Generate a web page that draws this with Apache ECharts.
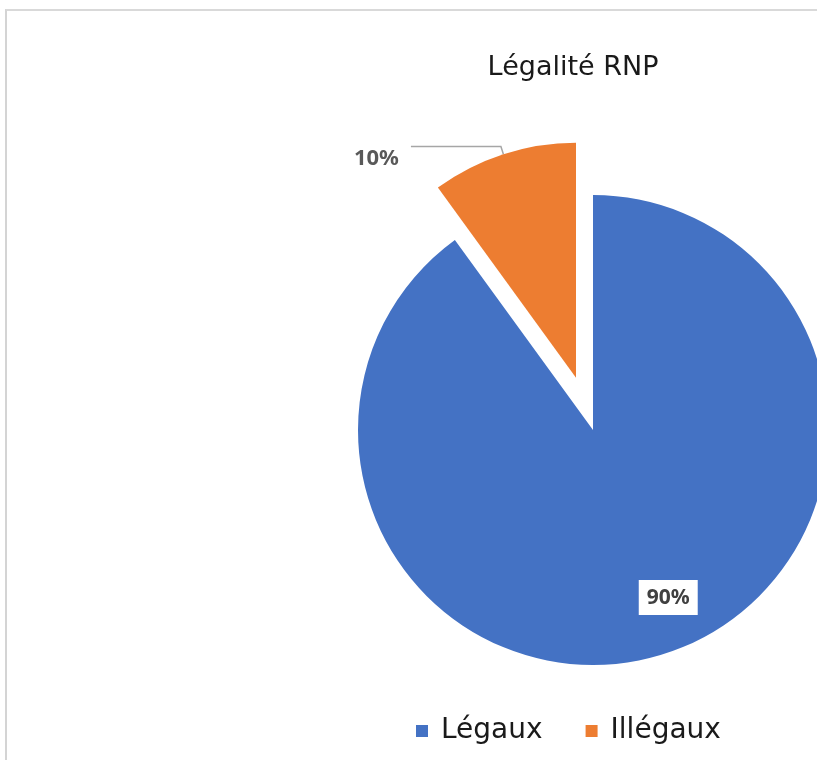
<!DOCTYPE html>
<html>
<head>
<meta charset="utf-8">
<script src="https://cdn.jsdelivr.net/npm/echarts@6/dist/echarts.min.js"></script>
<style>
  html, body { margin: 0; padding: 0; background: #ffffff; }
  #frame { position: absolute; left: 5px; top: 9px; width: 830px; height: 760px;
           border-left: 2px solid #d4d4d4; border-top: 2px solid #d9d9d9; }
  #chart { position: absolute; left: 0; top: 0; width: 817px; height: 760px; }
</style>
</head>
<body>
<div id="frame"></div>
<div id="chart"></div>
<script>
// Data
const chartTitle = 'Légalité RNP';
const categories = ['Légaux', 'Illégaux'];
const values = [90, 10];
const colors = ['#4472C4', '#ED7D31'];

const chart = echarts.init(document.getElementById('chart'), null, { renderer: 'canvas' });

const pieData = categories.map((name, i) => {
  const item = { name: name, value: values[i], itemStyle: { color: colors[i] } };
  if (i === 0) {
    item.label = {
      position: 'inside',
      offset: [38, 53],
      backgroundColor: '#ffffff',
      padding: [8, 8, 6, 8],
      color: '#404040',
      fontFamily: 'Noto Sans',
      fontWeight: 'bold',
      fontSize: 21
    };
    item.labelLine = { show: false };
  } else {
    item.selected = true;
    item.label = {
      position: 'outside',
      color: '#595959',
      fontFamily: 'Noto Sans',
      fontWeight: 'bold',
      fontSize: 22,
      distanceToLabelLine: 12
    };
    item.labelLine = {
      show: true,
      length: 8,
      length2: 90,
      lineStyle: { color: '#a6a6a6', width: 1.5 }
    };
  }
  return item;
});

const option = {
  animation: false,
  title: {
    text: chartTitle,
    left: 573,
    top: 54,
    textAlign: 'center',
    padding: 0,
    textStyle: { fontFamily: 'DejaVu Sans', fontSize: 27, fontWeight: 'normal', color: '#1a1a1a' }
  },
  legend: {
    data: categories,
    left: 416,
    top: 717,
    padding: 0,
    itemWidth: 12,
    itemHeight: 12,
    itemGap: 43,
    icon: 'rect',
    selectedMode: false,
    textStyle: { fontFamily: 'DejaVu Sans', fontSize: 28, color: '#1a1a1a', padding: [0, 0, 0, 8] }
  },
  series: [{
    type: 'pie',
    center: [593, 430],
    radius: [0, 235],
    startAngle: 90,
    clockwise: true,
    selectedMode: 'single',
    selectedOffset: 55,
    avoidLabelOverlap: false,
    label: {
      show: true,
      formatter: (p) => p.value + '%'
    },
    labelLayout: (p) => (p.dataIndex === 1 ? { dy: 12 } : {}),
    emphasis: { disabled: true },
    itemStyle: { borderWidth: 0 },
    data: pieData
  }]
};
chart.setOption(option);
</script>
</body>
</html>
